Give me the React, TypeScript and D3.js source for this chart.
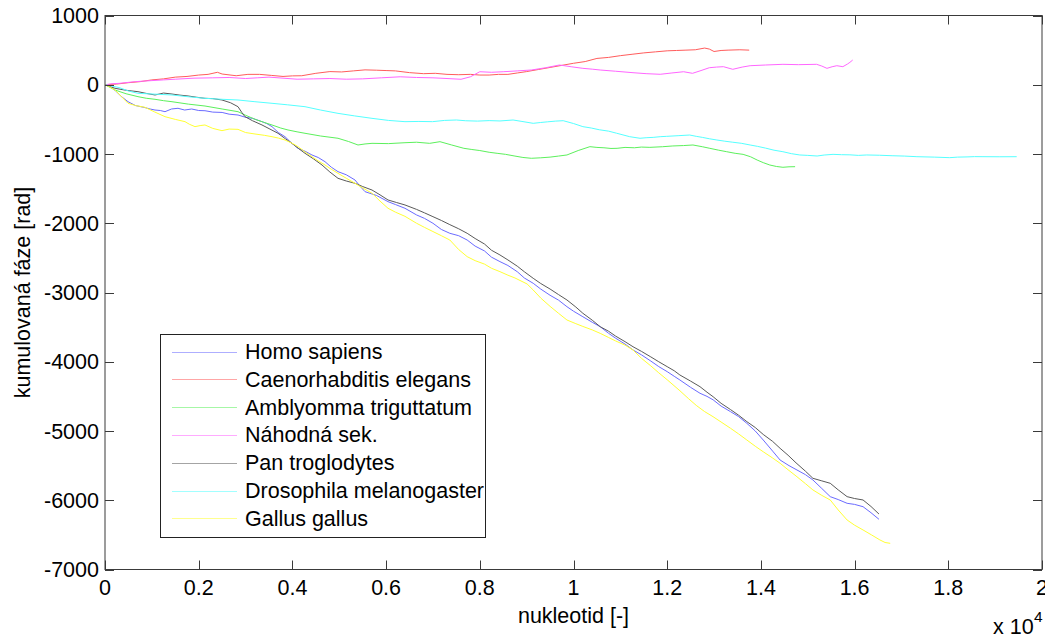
import React from "react";
import * as d3 from "d3";

type Pt = [number, number];

const xTicks = [0, 0.2, 0.4, 0.6, 0.8, 1, 1.2, 1.4, 1.6, 1.8, 2];
const xTickLabels = ["0", "0.2", "0.4", "0.6", "0.8", "1", "1.2", "1.4", "1.6", "1.8", "2"];
const yTicks = [1000, 0, -1000, -2000, -3000, -4000, -5000, -6000, -7000];
const yTickLabels = ["1000", "0", "-1000", "-2000", "-3000", "-4000", "-5000", "-6000", "-7000"];

const homoSapiens: Pt[] = [[0,0],[100,-20],[213,-80],[350,-170],[491,-245],[650,-300],[854,-330],[960,-350],[1067,-365],[1180,-372],[1281,-389],[1420,-350],[1558,-340],[1700,-365],[1850,-350],[2000,-372],[2134,-375],[2300,-395],[2500,-400],[2650,-425],[2839,-437],[3000,-470],[3150,-485],[3351,-533],[3450,-560],[3565,-605],[3700,-690],[3842,-750],[3980,-840],[4120,-918],[4270,-960],[4418,-1014],[4550,-1050],[4696,-1111],[4830,-1190],[4973,-1255],[5150,-1300],[5336,-1375],[5450,-1470],[5550,-1544],[5800,-1600],[6041,-1688],[6200,-1730],[6403,-1784],[6650,-1880],[6820,-1930],[7000,-2000],[7180,-2090],[7360,-2145],[7550,-2180],[7730,-2242],[7900,-2330],[8100,-2400],[8250,-2490],[8430,-2554],[8600,-2610],[8800,-2700],[8950,-2790],[9140,-2867],[9300,-2950],[9500,-3040],[9680,-3110],[9860,-3205],[10000,-3270],[10200,-3350],[10400,-3430],[10570,-3494],[10750,-3590],[10900,-3660],[11100,-3745],[11270,-3830],[11450,-3900],[11650,-3990],[11820,-4070],[12000,-4143],[12150,-4210],[12270,-4263],[12500,-4370],[12700,-4455],[12850,-4500],[12980,-4550],[13150,-4640],[13350,-4720],[13520,-4790],[13700,-4889],[13880,-5000],[14050,-5130],[14250,-5290],[14410,-5419],[14600,-5500],[14770,-5563],[14950,-5630],[15110,-5707],[15300,-5830],[15480,-5948],[15650,-5990],[15840,-6044],[16000,-6060],[16180,-6093],[16350,-6180],[16520,-6275]];

const caenorhabditis: Pt[] = [[0,0],[250,10],[500,30],[750,45],[1000,70],[1250,85],[1500,110],[1750,120],[2000,140],[2200,150],[2400,180],[2500,155],[2800,130],[3050,150],[3300,150],[3550,135],[3800,120],[4000,128],[4200,130],[4500,165],[4800,190],[5050,185],[5300,200],[5550,215],[5800,210],[6000,205],[6200,200],[6500,175],[6800,160],[7050,165],[7300,150],[7550,145],[7800,150],[8000,140],[8200,140],[8400,150],[8600,150],[8800,170],[9000,190],[9250,220],[9500,250],[9750,280],[10000,310],[10250,335],[10500,380],[10750,395],[11000,420],[11250,440],[11500,460],[11750,475],[12000,490],[12200,495],[12400,500],[12600,505],[12800,530],[12900,515],[13000,480],[13150,495],[13300,500],[13550,505],[13750,500]];

const amblyomma: Pt[] = [[0,0],[213,-76],[450,-130],[704,-172],[880,-195],[1067,-210],[1250,-230],[1430,-245],[1780,-280],[2134,-307],[2500,-350],[2839,-389],[3000,-440],[3202,-499],[3380,-540],[3565,-581],[3750,-625],[3906,-653],[4100,-680],[4269,-701],[4600,-740],[4973,-773],[5200,-820],[5400,-870],[5550,-855],[5699,-846],[6050,-850],[6403,-837],[6650,-830],[6930,-846],[7150,-822],[7400,-870],[7660,-918],[7830,-935],[8000,-950],[8200,-975],[8370,-990],[8550,-1005],[8750,-1030],[8920,-1050],[9100,-1062],[9300,-1055],[9500,-1045],[9680,-1030],[9860,-1014],[10100,-950],[10350,-894],[10500,-905],[10650,-910],[10800,-920],[10930,-918],[11100,-905],[11300,-910],[11450,-900],[11630,-904],[11900,-895],[12120,-884],[12350,-878],[12550,-870],[12750,-895],[12910,-918],[13100,-945],[13270,-967],[13450,-990],[13620,-1005],[13780,-1040],[13920,-1087],[14050,-1125],[14190,-1159],[14330,-1180],[14470,-1192],[14600,-1185],[14730,-1183]];

const nahodna: Pt[] = [[0,0],[150,15],[300,20],[650,45],[1000,60],[1250,70],[1500,80],[1900,95],[2300,100],[2650,105],[3000,90],[3250,100],[3500,110],[3800,95],[4100,80],[4450,85],[4800,90],[5150,80],[5500,85],[5900,100],[6300,115],[6650,105],[7000,100],[7300,90],[7600,79],[7800,115],[8000,188],[8250,180],[8500,188],[8800,200],[9100,213],[9400,245],[9700,285],[9950,260],[10200,237],[10400,225],[10570,213],[10900,195],[11270,174],[11550,160],[11850,151],[12100,170],[12350,188],[12540,165],[12700,200],[12900,246],[13050,255],[13200,261],[13400,223],[13600,255],[13770,275],[14100,285],[14470,295],[14800,290],[15190,295],[15300,270],[15410,237],[15520,260],[15620,275],[15750,261],[15850,300],[15900,324],[15960,357]];

const panTroglodytes: Pt[] = [[0,0],[213,-51],[450,-80],[704,-100],[880,-125],[1067,-148],[1250,-120],[1430,-134],[1600,-150],[1772,-162],[1950,-180],[2134,-196],[2300,-200],[2497,-220],[2680,-260],[2839,-317],[2920,-400],[2988,-461],[3150,-520],[3351,-581],[3520,-640],[3693,-701],[3850,-780],[3991,-846],[4130,-920],[4269,-990],[4450,-1070],[4632,-1159],[4800,-1260],[4973,-1351],[5150,-1390],[5336,-1423],[5500,-1470],[5699,-1520],[5870,-1590],[6041,-1664],[6220,-1700],[6403,-1736],[6650,-1800],[6820,-1850],[7000,-1905],[7180,-1960],[7360,-2020],[7550,-2080],[7730,-2145],[7900,-2220],[8100,-2300],[8250,-2390],[8430,-2458],[8600,-2530],[8800,-2620],[8950,-2700],[9140,-2795],[9300,-2870],[9500,-2950],[9680,-3030],[9860,-3108],[10050,-3210],[10200,-3300],[10400,-3400],[10570,-3494],[10750,-3560],[10900,-3630],[11100,-3710],[11270,-3783],[11450,-3850],[11650,-3930],[11820,-4000],[12000,-4071],[12150,-4130],[12270,-4191],[12500,-4280],[12700,-4360],[12850,-4440],[12980,-4505],[13150,-4600],[13350,-4690],[13520,-4770],[13700,-4865],[13880,-4950],[14050,-5050],[14250,-5150],[14410,-5250],[14580,-5350],[14750,-5460],[14950,-5580],[15110,-5683],[15300,-5720],[15480,-5755],[15650,-5850],[15840,-5948],[16000,-5975],[16180,-5996],[16350,-6090],[16520,-6199]];

const drosophila: Pt[] = [[0,0],[300,-40],[500,-90],[704,-124],[1050,-135],[1430,-148],[1800,-175],[2134,-196],[2500,-210],[2839,-220],[3200,-245],[3565,-268],[3900,-290],[4269,-317],[4600,-365],[4973,-413],[5330,-450],[5699,-485],[6050,-515],[6403,-533],[6700,-530],[6990,-533],[7250,-515],[7500,-509],[7700,-520],[7950,-525],[8200,-518],[8430,-523],[8710,-509],[8900,-530],[9140,-557],[9300,-545],[9450,-535],[9620,-525],[9780,-519],[10000,-560],[10200,-605],[10380,-625],[10550,-650],[10750,-670],[10920,-700],[11200,-750],[11420,-773],[11550,-765],[11700,-760],[11850,-750],[11990,-745],[12250,-735],[12480,-726],[12620,-745],[12750,-760],[12900,-780],[13060,-798],[13230,-815],[13400,-830],[13580,-845],[13770,-870],[13930,-890],[14100,-915],[14280,-945],[14470,-967],[14650,-995],[14830,-1014],[15000,-1020],[15200,-1029],[15350,-1015],[15540,-1005],[15720,-1010],[15900,-1012],[16080,-1020],[16260,-1014],[16530,-1018],[16800,-1025],[17060,-1030],[17330,-1039],[17700,-1045],[18030,-1053],[18200,-1045],[18400,-1042],[18560,-1038],[18740,-1039],[19100,-1040],[19460,-1039]];

const gallus: Pt[] = [[0,0],[100,-30],[213,-76],[350,-170],[491,-268],[650,-300],[854,-326],[1050,-390],[1281,-461],[1500,-500],[1708,-533],[1800,-570],[1921,-605],[2030,-590],[2134,-581],[2300,-630],[2497,-663],[2650,-640],[2839,-644],[3000,-690],[3202,-711],[3400,-730],[3565,-750],[3700,-770],[3842,-798],[3980,-840],[4120,-894],[4270,-970],[4418,-1039],[4550,-1100],[4696,-1159],[4830,-1220],[4973,-1279],[5150,-1350],[5336,-1423],[5500,-1490],[5699,-1567],[5870,-1680],[6041,-1784],[6200,-1840],[6403,-1900],[6650,-2000],[6820,-2060],[7000,-2120],[7180,-2180],[7360,-2242],[7550,-2380],[7730,-2482],[7900,-2540],[8100,-2590],[8250,-2650],[8430,-2699],[8600,-2750],[8750,-2790],[9010,-2877],[9140,-2964],[9300,-3080],[9500,-3200],[9680,-3300],[9860,-3397],[10050,-3450],[10200,-3490],[10400,-3540],[10570,-3590],[10750,-3650],[10900,-3700],[11100,-3760],[11270,-3830],[11450,-3950],[11650,-4060],[11820,-4160],[12000,-4260],[12273,-4420],[12450,-4530],[12620,-4630],[12800,-4720],[12978,-4793],[13150,-4870],[13350,-4960],[13520,-5040],[13700,-5130],[13880,-5220],[14050,-5300],[14250,-5390],[14410,-5466],[14580,-5560],[14750,-5650],[14950,-5760],[15110,-5851],[15300,-5930],[15480,-5996],[15650,-6140],[15840,-6285],[16000,-6360],[16180,-6429],[16360,-6500],[16540,-6573],[16650,-6610],[16760,-6622]];

const seriesNames = ["Homo sapiens", "Caenorhabditis elegans", "Amblyomma triguttatum", "Náhodná sek.", "Pan troglodytes", "Drosophila melanogaster", "Gallus gallus"];
const seriesData = [homoSapiens, caenorhabditis, amblyomma, nahodna, panTroglodytes, drosophila, gallus];
const seriesColors = ["#6b6bff", "#ff5c5c", "#5cf05c", "#ff66ff", "#5a5a5a", "#55ffff", "#ffff33"];

const W = 1045;
const H = 638;
const M = { left: 105, right: 1042, top: 15.5, bottom: 569.5 };
const FONT = "Arial, 'Liberation Sans', Helvetica, sans-serif";
const FS = 21.5;

export default function App() {
  const x = d3.scaleLinear().domain([0, 20000]).range([M.left, M.right]);
  const y = d3.scaleLinear().domain([-7000, 1000]).range([M.bottom, M.top]);
  const line = d3.line<Pt>().x((d) => x(d[0])).y((d) => y(d[1]));
  const tl = 9;
  const axisColor = "#3a3a3a";
  const legend = { x0: 160.5, y0: 334.5, x1: 485.5, y1: 537.5 };
  const rowY = (i: number) => 351.5 + i * 27.8;

  return (
    <svg width={W} height={H} style={{ position: "absolute", left: 0, top: 0, background: "#fff" }} fontFamily={FONT}>
      <rect x={0} y={0} width={W} height={H} fill="#fff" />
      <g>
        {seriesData.map((d, i) => (
          <path key={i} d={line(d) || ""} fill="none" stroke={seriesColors[i]} strokeWidth={1} strokeLinejoin="round" />
        ))}
      </g>
      <rect x={M.left} y={M.top} width={M.right - M.left} height={M.bottom - M.top} fill="none" stroke={axisColor} strokeWidth={1} />
      {xTicks.map((t, i) => {
        const px = Math.round(x(t * 10000)) + 0.5;
        return (
          <g key={"xt" + i}>
            <line x1={px} x2={px} y1={M.bottom} y2={M.bottom - tl} stroke={axisColor} />
            <line x1={px} x2={px} y1={M.top} y2={M.top + tl} stroke={axisColor} />
            <text x={x(t * 10000)} y={595} textAnchor="middle" fontSize={FS} fill="#000">{xTickLabels[i]}</text>
          </g>
        );
      })}
      {yTicks.map((t, i) => {
        const py = Math.round(y(t)) + 0.5;
        return (
          <g key={"yt" + i}>
            <line x1={M.left} x2={M.left + tl} y1={py} y2={py} stroke={axisColor} />
            <line x1={M.right} x2={M.right - tl} y1={py} y2={py} stroke={axisColor} />
            <text x={99} y={y(t)} dy="0.35em" textAnchor="end" fontSize={FS} fill="#000">{yTickLabels[i]}</text>
          </g>
        );
      })}
      <text x={(M.left + M.right) / 2} y={623} textAnchor="middle" fontSize={FS} fill="#000">nukleotid [-]</text>
      <text transform={`translate(29.5, ${(M.top + M.bottom) / 2}) rotate(-90)`} textAnchor="middle" fontSize={FS} fill="#000">kumulovaná fáze [rad]</text>
      <text x={993} y={634} fontSize={FS} fill="#000">x 10</text>
      <text x={1034} y={622} fontSize={FS * 0.72} fill="#000">4</text>
      <rect x={legend.x0} y={legend.y0} width={legend.x1 - legend.x0} height={legend.y1 - legend.y0} fill="#fff" stroke="#222" strokeWidth={1} />
      {seriesNames.map((name, i) => (
        <g key={"lg" + i}>
          <line x1={172} x2={237} y1={Math.round(rowY(i)) + 0.5} y2={Math.round(rowY(i)) + 0.5} stroke={seriesColors[i]} strokeOpacity={0.55} />
          <text x={245} y={rowY(i)} dy="0.35em" fontSize={FS} fill="#000">{name}</text>
        </g>
      ))}
    </svg>
  );
}
